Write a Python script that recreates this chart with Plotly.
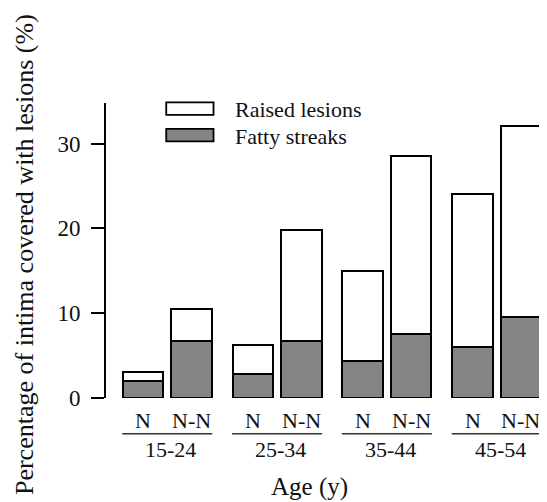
import plotly.graph_objects as go

age_groups = ["15-24", "25-34", "35-44", "45-54"]
subgroups = ["N", "N-N"]
fatty_streaks = [2.0, 6.7, 2.8, 6.7, 4.4, 7.6, 6.0, 9.6]
raised_lesions = [1.1, 3.8, 3.4, 13.1, 10.6, 20.9, 18.1, 22.5]
y_ticks = [0, 10, 20, 30]

FONT = "Liberation Serif, Times New Roman, serif"
GRAY = "#858585"

# bar positions: group index +/- offset for subgroup
offsets = {"N": -0.22, "N-N": 0.22}
xs, xlabels = [], []
for gi, g in enumerate(age_groups):
    for s in subgroups:
        xs.append(gi + offsets[s])
        xlabels.append(s)

fig = go.Figure()
fig.add_trace(go.Bar(
    x=xs, y=fatty_streaks, name="Fatty streaks", width=0.37,
    marker=dict(color=GRAY, line=dict(color="black", width=2)),
    showlegend=False,
))
fig.add_trace(go.Bar(
    x=xs, y=raised_lesions, name="Raised lesions", width=0.37,
    marker=dict(color="white", line=dict(color="black", width=2)),
    showlegend=False,
))

annotations = []
shapes = []
for x, lab in zip(xs, xlabels):
    annotations.append(dict(x=x, y=-0.077, xref="x", yref="paper", text=lab,
                            showarrow=False, font=dict(family=FONT, size=22, color="#111"),
                            xanchor="center", yanchor="middle"))
for gi, g in enumerate(age_groups):
    annotations.append(dict(x=gi + 0.03, y=-0.174, xref="x", yref="paper", text=g,
                            showarrow=False, font=dict(family=FONT, size=22, color="#111"),
                            xanchor="center", yanchor="middle"))
    shapes.append(dict(type="line", xref="x", yref="paper", x0=gi - 0.41, x1=gi + 0.41,
                       y0=-0.121, y1=-0.121, line=dict(color="#333", width=1.6)))

annotations.append(dict(x=(309 - 105.7) / 441.3, y=-0.303, xref="paper", yref="paper",
                        text="Age (y)", showarrow=False,
                        font=dict(family=FONT, size=25, color="#111"),
                        xanchor="center", yanchor="middle"))
annotations.append(dict(x=-0.185, y=0.486, xref="paper", yref="paper",
                        text="Percentage of intima covered with lesions (%)",
                        textangle=-90, showarrow=False,
                        font=dict(family=FONT, size=26, color="#111"),
                        xanchor="center", yanchor="middle"))

# legend drawn manually
legend_items = [("Raised lesions", "white", 1.002, 0.960, 0.979),
                ("Fatty streaks", GRAY, 0.912, 0.870, 0.887)]
for text, color, y1, y0, ty in legend_items:
    shapes.append(dict(type="rect", xref="paper", yref="paper", x0=0.1366, x1=0.2438,
                       y0=y0, y1=y1, fillcolor=color, line=dict(color="black", width=1.8)))
    annotations.append(dict(x=0.2878, y=ty, xref="paper", yref="paper", text=text,
                            showarrow=False, font=dict(family=FONT, size=22, color="#111"),
                            xanchor="left", yanchor="middle"))

# page body has an 8px margin, so the figure is sized/offset to fill the window
fig.update_layout(
    barmode="stack",
    width=539, height=494,
    margin=dict(l=98, r=0, t=95, b=104),
    paper_bgcolor="white", plot_bgcolor="white",
    font=dict(family=FONT, color="#111"),
    xaxis=dict(range=[-0.558, 3.458], showline=False, showticklabels=False,
               ticks="", showgrid=False, zeroline=False),
    yaxis=dict(range=[0, 34.78], showline=True, linecolor="black", linewidth=1.8,
               ticks="outside", ticklen=13, tickwidth=1.6, tickcolor="black",
               tickvals=y_ticks, ticktext=[str(v) for v in y_ticks],
               tickfont=dict(family=FONT, size=23, color="#111"),
               ticklabelstandoff=6,
               showgrid=False, zeroline=False),
    annotations=annotations,
    shapes=shapes,
)

fig.write_html("out.html")
